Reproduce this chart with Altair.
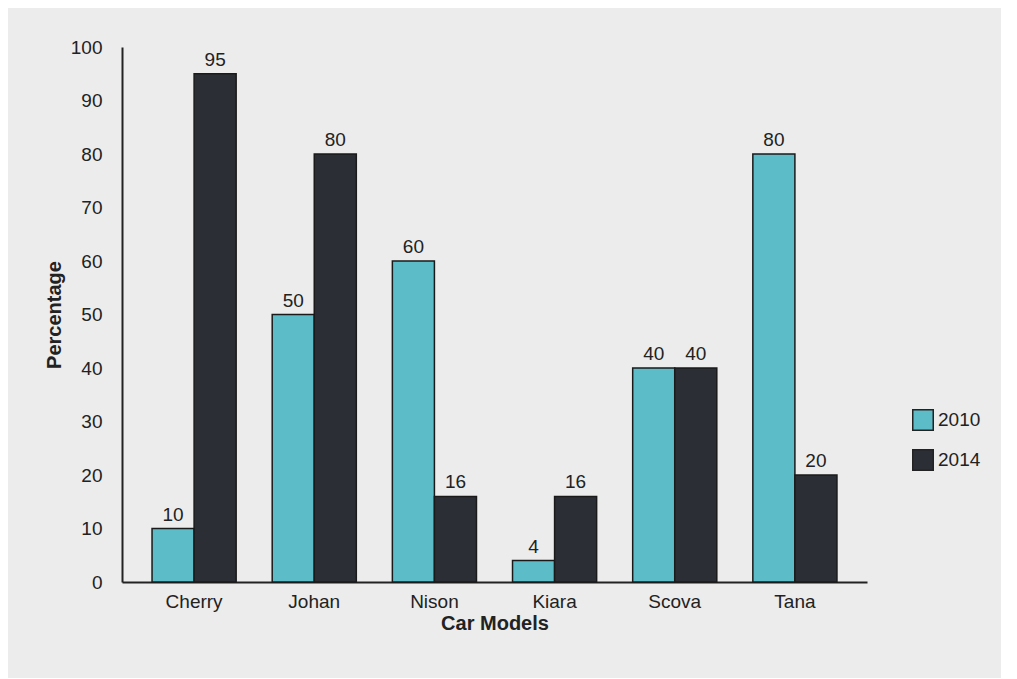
import altair as alt
import pandas as pd

models = ["Cherry", "Johan", "Nison", "Kiara", "Scova", "Tana"]
v2010 = [10, 50, 60, 4, 40, 80]
v2014 = [95, 80, 16, 16, 40, 20]
years = ["2010", "2014"]

rows = []
for m, a, b in zip(models, v2010, v2014):
    rows.append({"model": m, "year": years[0], "value": a})
    rows.append({"model": m, "year": years[1], "value": b})
df = pd.DataFrame(rows)

x = alt.X("model:N", sort=models, title="Car Models",
          scale=alt.Scale(paddingInner=0.3, paddingOuter=0.25),
          axis=alt.Axis(labelAngle=0, ticks=False, labelFontSize=19, titleFontSize=20,
                        titleFontWeight="bold", labelPadding=10, titlePadding=2,
                        domainColor="#222", domainWidth=2, labelColor="#222", titleColor="#222"))
y = alt.Y("value:Q", title="Percentage",
          scale=alt.Scale(domain=[0, 100]),
          axis=alt.Axis(values=list(range(0, 101, 10)), ticks=False, grid=False,
                        labelFontSize=19, titleFontSize=20, titleFontWeight="bold",
                        labelPadding=20, titlePadding=6,
                        domainColor="#222", domainWidth=2, labelColor="#222", titleColor="#222"))

color = alt.Color("year:N", title=None,
                  scale=alt.Scale(domain=years, range=["#5cbdc9", "#2b2f35"]),
                  legend=alt.Legend(orient="none", legendX=790, legendY=362,
                                    symbolType="square", symbolSize=420,
                                    symbolStrokeColor="#222", symbolStrokeWidth=1.5,
                                    labelFontSize=19, labelColor="#222", rowPadding=12))

base = alt.Chart(df).encode(x=x, xOffset=alt.XOffset("year:N", sort=years))

bars = base.mark_bar(stroke="#1a1a1a", strokeWidth=1.5).encode(y=y, color=color)
labels = base.mark_text(dy=-14, fontSize=19, color="#222").encode(
    y="value:Q", text="value:Q")

chart = (bars + labels).properties(
    width=745, height=535, background="#ececec",
    padding={"left": 36, "top": 30, "right": 20, "bottom": 45}
).configure_view(stroke=None).configure_text(font="Liberation Sans").configure_axis(
    labelFont="Liberation Sans", titleFont="Liberation Sans").configure_legend(labelFont="Liberation Sans")

chart.save("out.html", embed_options={"renderer": "svg", "actions": False})
